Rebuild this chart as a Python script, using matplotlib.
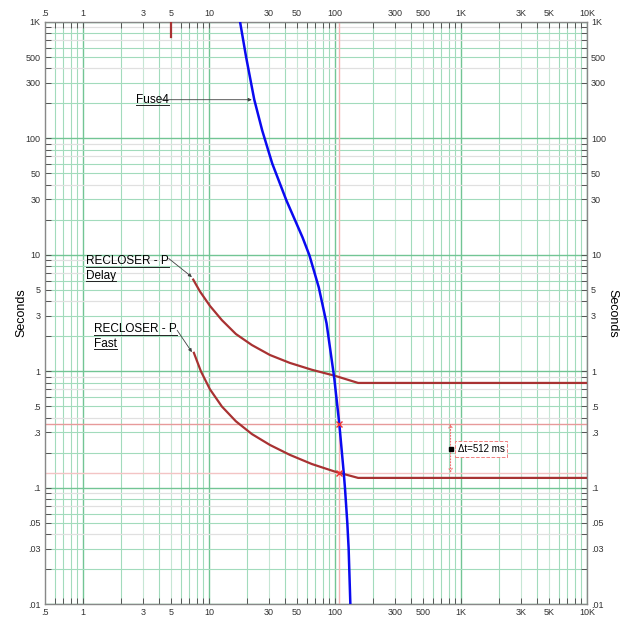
import numpy as np
import matplotlib
matplotlib.use('Agg')
import matplotlib.pyplot as plt
from matplotlib.lines import Line2D

plt.rcParams['font.family'] = ['Liberation Sans', 'DejaVu Sans']

# curve data (amps, seconds)
fuse_amps = [17.6, 19.7, 22.9, 26.5, 31.8, 41.2, 55.4, 62.8, 74.5, 85.9, 98.7, 108.3, 117.7, 120.3, 125.5, 128.6, 132.7]
fuse_secs = [1030, 506, 216, 117, 61, 29.4, 14.1, 9.9, 5.26, 2.58, 0.888, 0.358, 0.133, 0.099, 0.05, 0.03, 0.01]

delay_amps = [7.51, 8.48, 10.18, 12.68, 16.38, 21.94, 30.5, 43.9, 65.7, 100, 153, 10000]
delay_secs = [6.13, 4.86, 3.65, 2.75, 2.09, 1.68, 1.38, 1.18, 1.03, 0.915, 0.794, 0.794]

fast_amps = [7.6, 8.64, 10.18, 12.68, 16.38, 21.94, 30.5, 43.9, 65.7, 100, 153, 10000]
fast_secs = [1.44, 1.0, 0.702, 0.498, 0.372, 0.289, 0.233, 0.1915, 0.1597, 0.1375, 0.1214, 0.1214]

stub_amps = [5, 5]
stub_secs = [1000, 740]

# delta-t marker
dt_amp = 107
dt_top = 0.356
dt_bot = 0.134
dt_label_amp = 828
dt_label = 'Δt=512 ms'

x_ticks = [0.5, 1, 3, 5, 10, 30, 50, 100, 300, 500, 1000, 3000, 5000, 10000]
x_labels = ['.5', '1', '3', '5', '10', '30', '50', '100', '300', '500', '1K', '3K', '5K', '10K']
y_ticks = [0.01, 0.03, 0.05, 0.1, 0.3, 0.5, 1, 3, 5, 10, 30, 50, 100, 300, 500, 1000]
y_labels = ['.01', '.03', '.05', '.1', '.3', '.5', '1', '3', '5', '10', '30', '50', '100', '300', '500', '1K']

fig = plt.figure(figsize=(6.31, 6.19), dpi=100)
ax = fig.add_axes([0.0713, 0.024, 0.8587, 0.9405])
ax.set_xscale('log')
ax.set_yscale('log')
ax.set_xlim(0.5, 10000)
ax.set_ylim(0.01, 1000)

green = '#a2dbbc'
green_dk = '#72c594'
gray = '#e0e0e0'

# grid lines
for dec in range(-1, 5):
    for m in range(1, 10):
        v = m * 10.0 ** dec
        if v < 0.5 or v > 10000:
            continue
        if m == 1:
            ax.axvline(v, color=green_dk, lw=1.0, zorder=0)
        else:
            ax.axvline(v, color=green if m not in (3, 5) else '#c6e6d4', lw=0.8, zorder=0)
for dec in range(-2, 4):
    for m in range(1, 10):
        v = m * 10.0 ** dec
        if v < 0.01 or v > 1000:
            continue
        if m == 1:
            ax.axhline(v, color=green_dk, lw=1.0, zorder=0)
        elif m in (7, 9, 4):
            ax.axhline(v, color=gray, lw=0.9, zorder=0)
        else:
            ax.axhline(v, color=green, lw=0.8, zorder=0)

# delta-t reference lines
ax.axvline(dt_amp, color='#f4b4b4', lw=1.0, zorder=1)
ax.axhline(dt_top, color='#e79a9a', lw=1.0, zorder=1)
ax.axhline(dt_bot, color='#f3c4c4', lw=1.0, zorder=1)

red = '#a83232'
ax.plot(stub_amps, stub_secs, color=red, lw=1.6, zorder=3)
ax.plot(delay_amps, delay_secs, color=red, lw=1.6, zorder=3, solid_joinstyle='round')
ax.plot(fast_amps, fast_secs, color=red, lw=1.6, zorder=3, solid_joinstyle='round')
ax.plot(fuse_amps, fuse_secs, color='#0a0af0', lw=1.8, zorder=4, solid_joinstyle='round')

ax.plot([dt_amp, dt_amp], [dt_top, dt_bot], ls='none', marker='x', ms=4, mew=1, color='#f03030', zorder=5)
ax.annotate('', xy=(dt_label_amp, dt_top), xytext=(dt_label_amp, dt_bot),
            arrowprops=dict(arrowstyle='<->', color='#f07070', lw=0.8, ls=':',
                            shrinkA=0, shrinkB=0, mutation_scale=6), zorder=5)
dt_mid = np.sqrt(dt_top * dt_bot) * 0.98
ax.plot([dt_label_amp], [dt_mid], marker='s', ms=3.5, color='black', zorder=6)
ax.text(dt_label_amp * 1.14, dt_mid, dt_label, fontsize=7, va='center', ha='left', zorder=6,
        bbox=dict(boxstyle='square,pad=0.3', fc='white', ec='#f08080', ls='--', lw=0.7))

# curve labels
arrow_kw = dict(arrowstyle='-|>', color='#404040', lw=0.6, mutation_scale=5, shrinkA=0, shrinkB=0)
t1 = ax.text(2.63, 215, 'Fuse4', fontsize=8.5, va='center', ha='left', zorder=6)
ax.annotate('', xy=(21.9, 215), xytext=(3.95, 215), arrowprops=arrow_kw, zorder=6)
t2 = ax.text(1.056, 10.0, 'RECLOSER - P\nDelay', fontsize=8.5, va='top', ha='left',
             linespacing=1.35, zorder=6)
ax.annotate('', xy=(7.33, 6.45), xytext=(4.8, 9.3), arrowprops=arrow_kw, zorder=6)
t3 = ax.text(1.22, 2.6, 'RECLOSER - P\nFast', fontsize=8.5, va='top', ha='left',
             linespacing=1.35, zorder=6)
ax.annotate('', xy=(7.33, 1.46), xytext=(5.6, 2.25), arrowprops=arrow_kw, zorder=6)

# ticks
ax.xaxis.set_major_locator(matplotlib.ticker.FixedLocator(x_ticks))
ax.xaxis.set_major_formatter(matplotlib.ticker.FixedFormatter(x_labels))
ax.yaxis.set_major_locator(matplotlib.ticker.FixedLocator(y_ticks))
ax.yaxis.set_major_formatter(matplotlib.ticker.FixedFormatter(y_labels))
ax.xaxis.set_minor_locator(matplotlib.ticker.LogLocator(base=10, subs=np.arange(1, 10)))
ax.yaxis.set_minor_locator(matplotlib.ticker.LogLocator(base=10, subs=np.arange(1, 10)))
ax.xaxis.set_minor_formatter(matplotlib.ticker.NullFormatter())
ax.yaxis.set_minor_formatter(matplotlib.ticker.NullFormatter())
ax.tick_params(which='both', direction='in', top=True, right=True, labeltop=True,
               labelright=True, length=4, width=0.7, color='#555555', labelsize=6.5,
               labelcolor='#333333', pad=3)
for sp in ax.spines.values():
    sp.set_color('#888888')
    sp.set_linewidth(1.0)

ax.text(-0.043, 0.5, 'Seconds', fontsize=9, rotation=90, va='center', ha='center',
        transform=ax.transAxes)
ax.text(1.048, 0.5, 'Seconds', fontsize=9, rotation=270, va='center', ha='center',
        transform=ax.transAxes)

# underline the curve labels
fig.canvas.draw()
renderer = fig.canvas.get_renderer()
inv = fig.transFigure.inverted()


def underline(txt, lines):
    bb = txt.get_window_extent(renderer)
    h = bb.height / lines
    for i in range(lines):
        y = bb.y1 - (i + 1) * h + 1.5
        if i == lines - 1:
            y = bb.y0 + 1
        s = txt.get_text().split('\n')[i]
        tmp = fig.text(0, 0, s, fontsize=txt.get_fontsize())
        w = tmp.get_window_extent(renderer).width
        tmp.remove()
        p0 = inv.transform((bb.x0, y))
        p1 = inv.transform((bb.x0 + w, y))
        fig.add_artist(Line2D([p0[0], p1[0]], [p0[1], p1[1]], color='#222222', lw=0.7))


underline(t1, 1)
underline(t2, 2)
underline(t3, 2)

fig.savefig('out.png', dpi=100)
